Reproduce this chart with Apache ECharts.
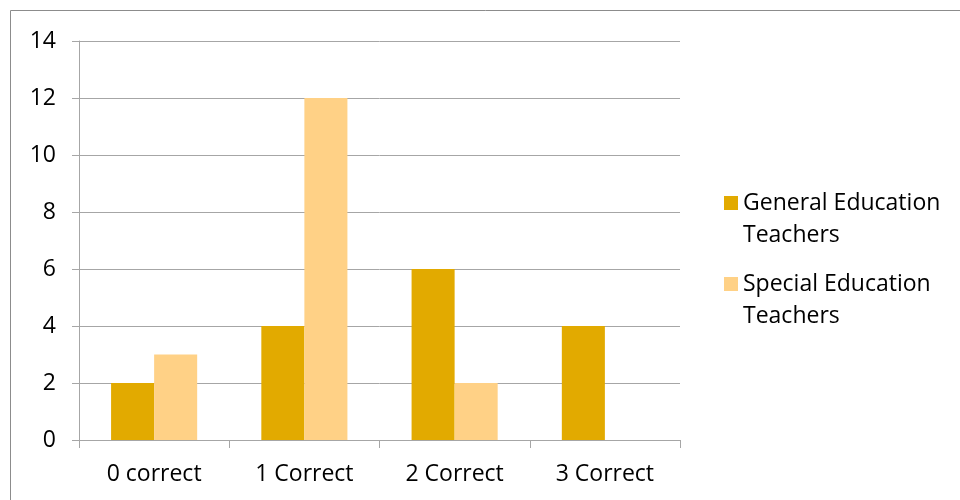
<!DOCTYPE html>
<html>
<head>
<meta charset="utf-8">
<script src="https://cdn.jsdelivr.net/npm/echarts@6/dist/echarts.min.js"></script>
<style>
  html, body { margin: 0; padding: 0; background: #fff; }
  #chart { width: 960px; height: 500px; }
</style>
</head>
<body>
<div id="chart"></div>
<script>
var categories = ['0 correct', '1 Correct', '2 Correct', '3 Correct'];
var generalEd = [2, 4, 6, 4];
var specialEd = [3, 12, 2, 0];
var seriesNames = ['General Education Teachers', 'Special Education Teachers'];
var yTicks = { min: 0, max: 14, step: 2 };

var FONT = '"Open Sans", sans-serif';
var gridColor = '#a6a6a6';

var myChart = echarts.init(document.getElementById('chart'));

var option = {
    color: ['#E2AA00', '#FFD186'],
    animation: false,
    textStyle: { fontFamily: FONT },
    graphic: [{
        type: 'rect',
        shape: { x: 10.5, y: 10.5, width: 960, height: 500 },
        style: { fill: 'none', stroke: '#8c8c8c', lineWidth: 1 },
        silent: true
    }],
    grid: { left: 79, right: 280, top: 41, bottom: 60, containLabel: false },
    legend: {
        orient: 'vertical',
        left: 724,
        top: 187,
        padding: 0,
        itemGap: 17,
        itemWidth: 14,
        itemHeight: 46,
        // square drawn in the top part so it sits beside the first text line
        icon: 'path://M0,0L14,0L14,14L0,14Z M0,46',
        formatter: function (name) {
            return name.replace(' Teachers', '\nTeachers');
        },
        textStyle: { fontFamily: FONT, fontSize: 23, color: '#000', lineHeight: 32 },
        data: seriesNames
    },
    xAxis: {
        type: 'category',
        data: categories,
        axisLine: { lineStyle: { color: gridColor } },
        axisTick: { show: true, length: 8, lineStyle: { color: gridColor } },
        axisLabel: { fontFamily: FONT, fontSize: 23, color: '#000', margin: 23 }
    },
    yAxis: {
        type: 'value',
        min: yTicks.min,
        max: yTicks.max,
        interval: yTicks.step,
        axisLine: { show: true, lineStyle: { color: gridColor } },
        axisTick: { show: true, length: 7, lineStyle: { color: gridColor } },
        splitLine: { lineStyle: { color: gridColor } },
        axisLabel: { fontFamily: FONT, fontSize: 23, color: '#000', margin: 23 }
    },
    series: [{
        name: seriesNames[0],
        type: 'bar',
        data: generalEd,
        barGap: '0%',
        barCategoryGap: '42.7%'
    }, {
        name: seriesNames[1],
        type: 'bar',
        data: specialEd,
        barGap: '0%',
        barCategoryGap: '42.7%'
    }]
};

myChart.setOption(option);
</script>
</body>
</html>
